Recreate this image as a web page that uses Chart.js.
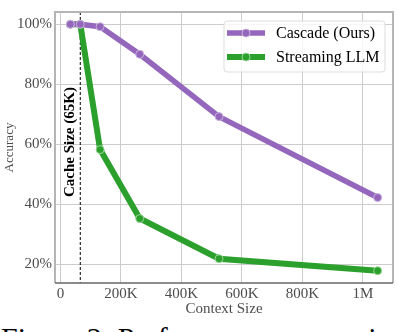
<!DOCTYPE html>
<html>
<head>
<meta charset="utf-8">
<script src="https://cdn.jsdelivr.net/npm/chart.js@4"></script>
<style>
body { margin: 0; background: #fff; }
#wrap { position: relative; width: 398px; height: 332px; overflow: hidden; }
#chartBox { position: absolute; left: 0; top: 0; width: 398px; height: 318px; }
#caption { position: absolute; left: 1px; top: 323px; font: 30px/30px 'Liberation Serif', serif; white-space: nowrap; color: #000; }
</style>
</head>
<body>
<div id="wrap">
  <div id="chartBox"><canvas id="c"></canvas></div>
  <div id="caption">Figure 2: Performance comparison</div>
</div>
<script>
// data
const contextSizes = [32768, 65536, 131072, 262144, 524288, 1048576];
const cascadeAcc = [100, 100, 99.2, 90.0, 69.2, 42.2];
const streamingAcc = [100, 100, 58.2, 35.2, 21.8, 17.8];
const seriesNames = ['Cascade (Ours)', 'Streaming LLM'];
const cacheSize = 65536;
const cacheLabel = 'Cache Size (65K)';
const xTicks = [0, 200000, 400000, 600000, 800000, 1000000];
const xTickLabels = ['0', '200K', '400K', '600K', '800K', '1M'];
const yTicks = [20, 40, 60, 80, 100];
const yTickLabels = ['20%', '40%', '60%', '80%', '100%'];

const serif = "'Liberation Serif', 'DejaVu Serif', serif";
const purple = '#9467bd';
const green = '#2ca02c';

const toPoints = (ys) => contextSizes.map((x, i) => ({ x: x, y: ys[i] }));

// dashed cache line + rotated label
const cacheLine = {
    id: 'cacheLine',
    beforeDatasetsDraw(chart) {
        const { ctx, chartArea, scales } = chart;
        const px = scales.x.getPixelForValue(cacheSize);
        ctx.save();
        ctx.strokeStyle = '#000';
        ctx.lineWidth = 1;
        ctx.setLineDash([3, 2]);
        ctx.beginPath();
        ctx.moveTo(px, chartArea.top);
        ctx.lineTo(px, chartArea.bottom);
        ctx.stroke();
        ctx.setLineDash([]);
        ctx.translate(px - 10, scales.y.getPixelForValue(60.7));
        ctx.rotate(-Math.PI / 2);
        ctx.font = 'bold 15px ' + serif;
        ctx.fillStyle = '#000';
        ctx.textAlign = 'center';
        ctx.textBaseline = 'middle';
        ctx.fillText(cacheLabel, 0, 0);
        ctx.restore();
    }
};

// frame + legend inside the plot
const frameLegend = {
    id: 'frameLegend',
    afterDraw(chart) {
        const { ctx, chartArea } = chart;
        ctx.save();
        ctx.strokeStyle = '#b5b5b5';
        ctx.lineWidth = 2;
        ctx.beginPath();
        ctx.moveTo(chartArea.left, chartArea.bottom);
        ctx.lineTo(chartArea.left, chartArea.top);
        ctx.lineTo(chartArea.right, chartArea.top);
        ctx.lineTo(chartArea.right, chartArea.bottom);
        ctx.stroke();
        ctx.strokeStyle = '#666';
        ctx.lineWidth = 1.5;
        ctx.beginPath();
        ctx.moveTo(chartArea.left, chartArea.bottom);
        ctx.lineTo(chartArea.right, chartArea.bottom);
        ctx.stroke();

        const bw = 161, bh = 51;
        const bx = chartArea.right - 8 - bw, by = chartArea.top + 9;
        ctx.fillStyle = 'rgba(255,255,255,0.8)';
        ctx.strokeStyle = '#dddddd';
        ctx.lineWidth = 1;
        ctx.beginPath();
        ctx.roundRect(bx, by, bw, bh, 3);
        ctx.fill();
        ctx.stroke();
        chart.data.datasets.forEach((ds, i) => {
            const cy = by + 12 + i * 24;
            ctx.strokeStyle = ds.borderColor;
            ctx.lineWidth = ds.borderWidth;
            ctx.beginPath();
            ctx.moveTo(bx + 3, cy);
            ctx.lineTo(bx + 41, cy);
            ctx.stroke();
            ctx.fillStyle = ds.pointBackgroundColor;
            ctx.strokeStyle = ds.pointBorderColor;
            ctx.lineWidth = 1;
            ctx.beginPath();
            ctx.arc(bx + 22, cy, 4, 0, Math.PI * 2);
            ctx.fill();
            ctx.stroke();
            ctx.fillStyle = '#000';
            ctx.font = '16px ' + serif;
            ctx.textBaseline = 'middle';
            ctx.textAlign = 'left';
            ctx.fillText(ds.label, bx + 52, cy + 1);
        });
        ctx.restore();
    }
};

new Chart(document.getElementById('c'), {
    type: 'line',
    data: {
        datasets: [{
            label: seriesNames[0],
            data: toPoints(cascadeAcc),
            borderColor: purple,
            backgroundColor: purple,
            borderWidth: 5.5,
            pointRadius: 4,
            pointBackgroundColor: purple,
            pointBorderColor: '#c9b3de',
            pointBorderWidth: 1,
            tension: 0
        }, {
            label: seriesNames[1],
            data: toPoints(streamingAcc),
            borderColor: green,
            backgroundColor: green,
            borderWidth: 6,
            pointRadius: 4,
            pointBackgroundColor: green,
            pointBorderColor: '#9ad79a',
            pointBorderWidth: 1,
            tension: 0
        }]
    },
    options: {
        responsive: true,
        maintainAspectRatio: false,
        animation: false,
        layout: { padding: { top: 1, right: 3, left: 0, bottom: 0 } },
        scales: {
            x: {
                type: 'linear',
                min: -18022,
                max: 1099366,
                afterBuildTicks: (s) => { s.ticks = xTicks.map(v => ({ value: v })); },
                afterFit: (s) => { s.height = 35; },
                grid: { color: '#cccccc', lineWidth: 1, drawTicks: false },
                border: { display: false },
                ticks: {
                    padding: 2,
                    color: '#4d4d4d',
                    font: { family: serif, size: 15 },
                    maxRotation: 0,
                    callback: (v) => xTickLabels[xTicks.indexOf(v)]
                },
                title: {
                    display: true,
                    text: 'Context Size',
                    color: '#4d4d4d',
                    font: { family: serif, size: 15 },
                    padding: { top: 0, bottom: 0 }
                }
            },
            y: {
                min: 13.7,
                max: 104.1,
                afterBuildTicks: (s) => { s.ticks = yTicks.map(v => ({ value: v })); },
                afterFit: (s) => { s.width = 55; },
                grid: { color: '#cccccc', lineWidth: 1, drawTicks: false },
                border: { display: false },
                ticks: {
                    padding: 3,
                    color: '#4d4d4d',
                    font: { family: serif, size: 15 },
                    callback: (v) => yTickLabels[yTicks.indexOf(v)]
                },
                title: {
                    display: true,
                    text: 'Accuracy',
                    color: '#4d4d4d',
                    font: { family: serif, size: 13 },
                    padding: { top: 2, bottom: 0 }
                }
            }
        },
        plugins: {
            legend: { display: false },
            tooltip: { enabled: false }
        }
    },
    plugins: [cacheLine, frameLegend]
});
</script>
</body>
</html>
